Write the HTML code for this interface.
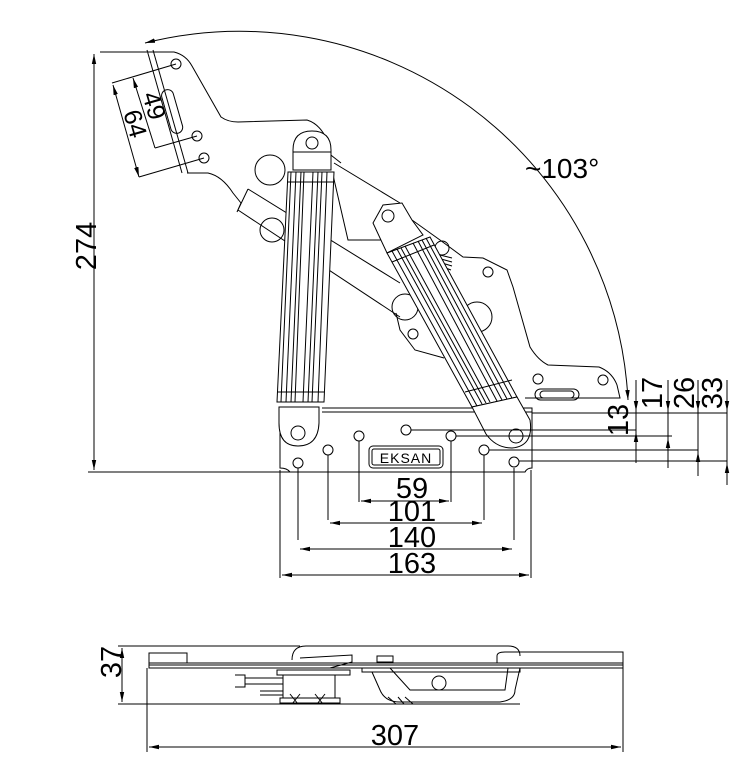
<!DOCTYPE html>
<html><head><meta charset="utf-8"><style>
html,body{margin:0;padding:0;background:#fff}
svg{display:block}
text{font-family:"Liberation Sans","DejaVu Sans",sans-serif;fill:#000}
</style></head><body>
<svg width="745" height="774" viewBox="0 0 745 774" xmlns="http://www.w3.org/2000/svg">
<defs>
<marker id="a" markerWidth="10" markerHeight="6" refX="10" refY="3" orient="auto" markerUnits="userSpaceOnUse"><path d="M0,0.8 L10,3 L0,5.2 z" fill="#000"/></marker>
<marker id="b" markerWidth="10" markerHeight="6" refX="0" refY="3" orient="auto" markerUnits="userSpaceOnUse"><path d="M10,0.8 L0,3 L10,5.2 z" fill="#000"/></marker>
</defs>
<g fill="none" stroke="#000" stroke-width="1">
<path d="M145,43 A389,389 0 0 1 628,400" marker-start="url(#b)" marker-end="url(#a)"/>
<path d="M148,52 L174,52 Q186,55 192,66 L221,117 Q228,122 238,122 L307,120 Q320,124 327,140" />
<path d="M187,173 L208,173 Q222,176 233,193 L241,203"/>
<line x1="147" y1="50" x2="182" y2="173"/><line x1="153" y1="50" x2="188" y2="173"/>
<rect x="166" y="89" width="12" height="45" rx="6" transform="rotate(-16 172 111)"/>
<circle cx="176" cy="64" r="5"/><circle cx="197" cy="136" r="5"/><circle cx="204" cy="158" r="5"/>
<circle cx="270" cy="170" r="15"/>
<path d="M248,189 L400,283 M238,210 L400,317 M241,203 L237,212 L248,189"/>
<circle cx="272" cy="230" r="12"/>
<path d="M334,163 L400,203 M333,175 L348,240 L388,240" />
<path d="M327,152 L341,163"/>
<path d="M412,220 L440,240 L463,257 L483,258 L507,270 L513,287 L530,347 Q538,360 548,365 L599,367 Q612,372 617,385 L620,398 L525,398"/>
<path d="M396,313 L400,330 L415,350 L444,358"/>
<circle cx="405" cy="307" r="13"/><circle cx="477" cy="317" r="15"/>
<circle cx="413" cy="334" r="5"/><circle cx="488" cy="272" r="5"/><circle cx="538" cy="379" r="5"/><circle cx="603" cy="380" r="5"/>
<rect x="535" y="389" width="44" height="11" rx="5.5"/><rect x="540" y="391" width="34" height="7" rx="3.5"/>
<circle cx="442" cy="248" r="7"/>
<path d="M440,255 L452,258 M441,259 L452,262 M442,263 L452,266 M443,267 L451,270"/>
<path d="M322,408 L532,408 L532,468 Q527,468 525,472 L290,472 Q287,468 280,468 L280,420"/>
<line x1="322" y1="412" x2="532" y2="412"/>
<circle cx="298" cy="463" r="5"/><circle cx="328" cy="450" r="5"/><circle cx="359" cy="436" r="5"/>
<circle cx="406" cy="430" r="5"/><circle cx="451" cy="436" r="5"/><circle cx="484" cy="450" r="5"/><circle cx="514" cy="462" r="5"/>
<rect x="369" y="446" width="74" height="22" rx="4"/><rect x="372" y="449" width="68" height="16" rx="2"/>
<path d="M293,170 L293,150 Q293,131 312,131 Q331,131 331,150 L331,170 Z" fill="#fff"/>
<line x1="293" y1="152" x2="331" y2="152"/>
<circle cx="312" cy="143" r="6"/>
<path d="M288,172 L334,172 L324,402 L277,402 Z" fill="#fff"/>
<path d="M291,172 L281,402 M296,172 L286,402 M301,172 L291,402 M304,172 L295,402 M313,172 L303,402 M318,172 L308,402 M322,172 L312,402 M327,172 L318,402 M287,182 L334,182 M277,392 L324,392"/>
<path d="M279,407 L319,407 L319,423 Q318,446 298,446 Q279,446 279,423 Z" fill="#fff"/>
<circle cx="298" cy="433" r="7"/>
<path d="M373,223 L383,205 L402,203 L412,220 L423,235 L387,253 Z" fill="#fff"/>
<circle cx="388" cy="216" r="6"/>
<path d="M387,253 L430,237 L517,397 L472,407 Z" fill="#fff"/>
<path d="M392,251 L477,406 M397,249 L482,404 M401,248 L486,403 M405,246 L490,402 M413,243 L497,401 M418,241 L502,400 M422,240 L507,399 M426,238 L512,398 M392,262 L434,245 M465,392 L512,380"/>
<path d="M472,407 L517,397 L530,420 Q534,446 512,448 Q496,448 486,434 Z" fill="#fff"/>
<circle cx="516" cy="436" r="7"/>
</g>
<g stroke="#000" stroke-width="1" fill="none">
<line x1="100" y1="52" x2="147" y2="52"/><line x1="88" y1="472" x2="290" y2="472"/>
<line x1="94" y1="54" x2="94" y2="470" marker-start="url(#b)" marker-end="url(#a)"/>
<line x1="112" y1="83" x2="176" y2="64"/><line x1="139" y1="177" x2="204" y2="158"/><line x1="155" y1="148" x2="197" y2="136"/>
<line x1="113" y1="85" x2="139" y2="177" marker-start="url(#b)" marker-end="url(#a)"/>
<line x1="133" y1="78" x2="155" y2="148" marker-start="url(#b)"/>
<line x1="280" y1="470" x2="280" y2="578"/><line x1="531" y1="470" x2="531" y2="578"/>
<line x1="298" y1="468" x2="298" y2="540"/><line x1="514" y1="468" x2="514" y2="540"/>
<line x1="328" y1="455" x2="328" y2="520"/><line x1="484" y1="455" x2="484" y2="520"/>
<line x1="359" y1="441" x2="359" y2="502"/><line x1="451" y1="441" x2="451" y2="502"/>
<line x1="361" y1="501" x2="449" y2="501" marker-start="url(#b)" marker-end="url(#a)"/>
<line x1="330" y1="523" x2="482" y2="523" marker-start="url(#b)" marker-end="url(#a)"/>
<line x1="300" y1="549" x2="512" y2="549" marker-start="url(#b)" marker-end="url(#a)"/>
<line x1="282" y1="575" x2="529" y2="575" marker-start="url(#b)" marker-end="url(#a)"/>
<line x1="532" y1="413" x2="727" y2="413"/>
<line x1="411" y1="430" x2="636" y2="430"/>
<line x1="456" y1="436" x2="672" y2="436"/>
<line x1="489" y1="450" x2="698" y2="450"/>
<line x1="519" y1="461" x2="727" y2="461"/>
<line x1="636" y1="380" x2="636" y2="463"/>
<line x1="636" y1="398" x2="636" y2="411" marker-end="url(#a)"/>
<line x1="636" y1="445" x2="636" y2="432" marker-end="url(#a)"/>
<line x1="668" y1="380" x2="668" y2="468"/>
<line x1="668" y1="398" x2="668" y2="411" marker-end="url(#a)"/>
<line x1="668" y1="450" x2="668" y2="438" marker-end="url(#a)"/>
<line x1="698" y1="380" x2="698" y2="476"/>
<line x1="698" y1="398" x2="698" y2="411" marker-end="url(#a)"/>
<line x1="698" y1="462" x2="698" y2="452" marker-end="url(#a)"/>
<line x1="727" y1="380" x2="727" y2="485"/>
<line x1="727" y1="398" x2="727" y2="411" marker-end="url(#a)"/>
<line x1="727" y1="473" x2="727" y2="463" marker-end="url(#a)"/>
<line x1="118" y1="646" x2="300" y2="646"/>
<path d="M292,660 Q292,646 306,646 L508,646 Q520,646 520,656"/>
<rect x="149" y="653" width="38" height="10"/>
<path d="M497,663 L497,656 Q497,652 505,652 L623,652 L623,663"/>
<rect x="149" y="663" width="474" height="5"/>
<path d="M149,665 L623,665"/>
<path d="M235,675 L245,675 L245,687 L235,687 M245,678 L300,678 M245,684 L300,684 M260,691 L290,691 L290,695 L260,695"/>
<path d="M277,670 L350,670 L350,675 L277,675 Z" fill="#fff"/>
<path d="M283,675 L335,675 L335,698 L283,698 Z" fill="#fff"/>
<path d="M280,698 L340,698 L340,703 L280,703 Z"/>
<path d="M290,694 L298,704 M300,694 L292,704 M315,694 L323,704 M325,694 L317,704"/>
<path d="M300,658 L352,655 L352,662 L330,668"/>
<rect x="377" y="656" width="16" height="6"/>
<path d="M362,668 L520,668 L520,672 L362,672 Z"/>
<path d="M372,672 L380,690 Q385,702 400,702 L500,702 Q515,700 515,690 L520,668"/>
<path d="M390,668 L410,690 L505,690 L508,668"/>
<circle cx="439" cy="683" r="7"/>
<path d="M388,697 L396,704 M405,697 L413,704 M398,697 L404,704"/>
<line x1="118" y1="704" x2="520" y2="704"/>
<line x1="122" y1="648" x2="122" y2="702" marker-start="url(#b)" marker-end="url(#a)"/>
<line x1="147" y1="668" x2="147" y2="752"/><line x1="623" y1="668" x2="623" y2="752"/>
<line x1="149" y1="747" x2="621" y2="747" marker-start="url(#b)" marker-end="url(#a)"/>
</g>
<g font-size="29">
<text x="525" y="178" font-size="28">~103°</text>
<text transform="translate(96,246) rotate(-90)" text-anchor="middle">274</text>
<text transform="translate(146,108) rotate(74)" text-anchor="middle" font-size="25">49</text>
<text transform="translate(127,126) rotate(74)" text-anchor="middle" font-size="25">64</text>
<text x="412" y="498" text-anchor="middle">59</text>
<text x="412" y="521" text-anchor="middle">101</text>
<text x="412" y="547" text-anchor="middle">140</text>
<text x="412" y="573" text-anchor="middle">163</text>
<text transform="translate(628,420) rotate(-90)" text-anchor="middle">13</text>
<text transform="translate(662,393) rotate(-90)" text-anchor="middle">17</text>
<text transform="translate(694,393) rotate(-90)" text-anchor="middle">26</text>
<text transform="translate(722,393) rotate(-90)" text-anchor="middle">33</text>
<text transform="translate(121,662) rotate(-90)" text-anchor="middle">37</text>
<text x="395" y="745" text-anchor="middle">307</text>
<text x="406" y="463" text-anchor="middle" font-size="14" letter-spacing="1">EKSAN</text>
</g>
</svg>
</body></html>
